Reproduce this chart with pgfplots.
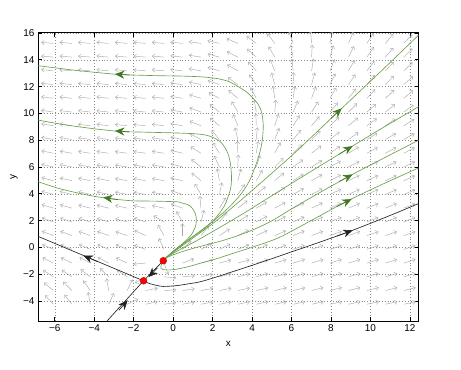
\documentclass[border=0pt]{standalone}
\usepackage{fontspec}
\setmainfont{Liberation Sans}
\usepackage{pgfplots}
\pgfplotsset{compat=1.18}
\usepackage{pgfplotstable}
\usetikzlibrary{arrows.meta}
\definecolor{qgray}{RGB}{170,170,170}
\definecolor{ggray}{RGB}{140,140,140}
\definecolor{tgreen}{RGB}{105,160,75}
\definecolor{agreen}{RGB}{65,120,35}
\definecolor{sep}{RGB}{35,35,35}

% screen angle (degrees) of the direction-field arrow; one row per y, one column per x
\pgfplotstableread{
y c0 c1 c2 c3 c4 c5 c6 c7 c8 c9 c10 c11 c12 c13 c14 c15 c16 c17 c18 c19
-4.25 133 128 100 65 25 12 8 10 11 11 12 12 12 12 12 12 12 12 12 12
-3.225 140 135 125 100 64 11 3 8 10 11 12 13 13 13 14 14 14 14 14 14
-2.2 147 146 143 136 147 211 355 5 12 14 15 15 15 15 16 16 16 16 16 16
-1.175 154 153 152 152 155 185 290 20 15 15 16 16 16 17 17 17 17 17 17 17
-0.15 157 157 157 157 158 160 115 45 27 25 22 21 20 19 19 18 18 18 18 18
0.875 159 159 160 160 161 155 120 90 50 33 27 25 23 22 21 20 20 19 19 19
1.9 161 162 163 164 165 162 150 120 75 50 33 28 26 24 23 22 22 21 21 21
2.925 163 164 165 166 167 168 168 160 95 58 38 31 28 26 25 24 23 22 22 21
3.95 165 166 167 168 169 170 170 162 120 78 55 40 33 29 27 25 24 23 23 22
4.975 166 167 168 169 170 170 170 167 140 100 75 60 40 33 30 28 26 25 24 24
6.0 168 169 170 171 171 171 170 165 142 115 88 72 45 36 32 29 27 26 25 25
7.025 169 170 171 172 172 172 171 166 148 122 92 80 62 44 38 34 31 29 28 27
8.05 170 171 172 172 173 173 172 168 152 130 103 85 68 50 44 39 35 32 30 29
9.075 171 172 173 173 174 174 173 170 158 140 112 92 72 58 50 44 40 36 34 32
10.1 172 173 173 174 174 174 174 170 160 142 120 100 85 67 57 50 45 41 38 36
11.125 173 174 174 174 175 175 174 171 163 152 140 118 98 82 70 60 52 47 43 40
12.15 174 174 175 175 175 175 175 173 168 160 145 125 105 88 75 64 56 50 45 42
13.175 174 175 175 175 175 175 175 174 170 163 150 132 112 95 81 69 60 52 47 44
14.2 175 175 175 175 175 175 175 174 171 165 153 138 120 102 87 74 63 55 49 45
15.225 175 175 175 175 175 175 175 174 172 167 157 143 126 110 95 80 67 57 50 46
}\field

\pgfplotsset{
  qv/.style={draw=qgray, line width=0.45pt,
    -{Straight Barb[length=2.6bp,width=4.2bp]},
    quiver={u={0.62*cos(\thisrow{#1})}, v={0.915*sin(\thisrow{#1})}}},
  tr/.style={tgreen, line width=0.65pt, smooth, tension=0.5},
  ah/.style={agreen, line width=0.65pt, -{Stealth[length=9.5bp,width=8bp,inset=3bp]}},
  bh/.style={sep, line width=0.65pt, -{Stealth[length=9.5bp,width=8bp,inset=3bp]}},
}

\begin{document}
\begin{tikzpicture}
\path[use as bounding box] (-38bp,-49bp) rectangle (423bp,321bp);
\begin{axis}[
  scale only axis, width=380.7bp, height=288bp,
  xmin=-6.85, xmax=12.45, ymin=-5.5, ymax=16,
  xtick={-6,-4,...,12}, xticklabels={−6,−4,−2,0,2,4,6,8,10,12},
  ytick={-4,-2,...,16}, yticklabels={−4,−2,0,2,4,6,8,10,12,14,16},
  grid=major, major grid style={ggray, line width=0.4pt, dash pattern=on 0.7pt off 2.2pt},
  tick align=inside, major tick length=4bp,
  tick style={black, line width=0.6pt},
  axis line style={black, line width=1pt},
  ticklabel style={font=\fontsize{10}{12}\selectfont},
]
\addplot[qv=c0] table[x expr=-6.07, y=y] {\field};
\addplot[qv=c1] table[x expr=-5.135, y=y] {\field};
\addplot[qv=c2] table[x expr=-4.2, y=y] {\field};
\addplot[qv=c3] table[x expr=-3.265, y=y] {\field};
\addplot[qv=c4] table[x expr=-2.33, y=y] {\field};
\addplot[qv=c5] table[x expr=-1.395, y=y] {\field};
\addplot[qv=c6] table[x expr=-0.46, y=y] {\field};
\addplot[qv=c7] table[x expr=0.475, y=y] {\field};
\addplot[qv=c8] table[x expr=1.41, y=y] {\field};
\addplot[qv=c9] table[x expr=2.345, y=y] {\field};
\addplot[qv=c10] table[x expr=3.28, y=y] {\field};
\addplot[qv=c11] table[x expr=4.215, y=y] {\field};
\addplot[qv=c12] table[x expr=5.15, y=y] {\field};
\addplot[qv=c13] table[x expr=6.085, y=y] {\field};
\addplot[qv=c14] table[x expr=7.02, y=y] {\field};
\addplot[qv=c15] table[x expr=7.955, y=y] {\field};
\addplot[qv=c16] table[x expr=8.89, y=y] {\field};
\addplot[qv=c17] table[x expr=9.825, y=y] {\field};
\addplot[qv=c18] table[x expr=10.76, y=y] {\field};
\addplot[qv=c19] table[x expr=11.695, y=y] {\field};

% green trajectories turning left
\addplot[tr] coordinates {(-0.5,-1) (-0.35,-0.75) (0,-0.3) (0.5,0.3) (0.9,0.9) (1.12,1.5) (1.18,2.0) (1.12,2.55) (0.85,3.1) (0.4,3.33) (0.17,3.4) (-1,3.45) (-2.03,3.47) (-3.29,3.65) (-4.5,3.95) (-5.8,4.4) (-6.85,4.9)};
\addplot[tr] coordinates {(-0.5,-1) (-0.3,-0.7) (0.2,-0.05) (0.8,0.6) (1.5,1.3) (2.1,2.1) (2.6,3.1) (2.9,4.3) (2.96,5.2) (2.9,6.3) (2.75,7.1) (2.45,7.8) (2.03,8.2) (1.5,8.42) (0.5,8.52) (-1.5,8.6) (-2.69,8.65) (-4,8.85) (-5.5,9.15) (-6.85,9.5)};
\addplot[tr] coordinates {(-0.5,-1) (-0.3,-0.7) (0.3,0.0) (1.0,0.8) (1.8,1.7) (2.7,2.8) (3.4,3.9) (3.88,5.0) (4.3,6.6) (4.5,7.8) (4.57,9.0) (4.5,10.0) (4.3,10.7) (3.8,11.5) (3.3,12.0) (2.87,12.35) (2.3,12.58) (1.5,12.72) (0.5,12.78) (-1,12.82) (-2.69,12.9) (-3.5,13.0) (-5,13.22) (-6.85,13.56)};
% green trajectories going right
\addplot[tr] coordinates {(-0.5,-1) (-0.3,-0.7) (0.4,0.05) (1.2,0.9) (2.2,2.0) (3.5,3.6) (4.9,5.4) (6.2,7.1) (8.35,10.1) (10.4,12.95) (12.45,15.85)};
\addplot[tr] coordinates {(-0.5,-1) (-0.3,-0.72) (0.3,-0.2) (1.2,0.5) (2.5,1.6) (3.7,2.65) (4.9,3.76) (6.8,5.5) (8.86,7.35) (10.6,8.9) (12.45,10.5)};
\addplot[tr] coordinates {(-0.5,-1) (-0.3,-0.75) (0.3,-0.4) (1.2,0.0) (2.5,0.5) (3.7,1.1) (4.9,1.9) (6.5,3.3) (8.86,5.26) (10.6,6.6) (12.45,8.0)};
\addplot[tr] coordinates {(-0.5,-1) (-0.6,-1.3) (-0.62,-1.55) (-0.5,-1.67) (0,-1.67) (0.7,-1.47) (1.35,-1.2) (2.2,-0.85) (3.04,-0.45) (4.2,0.1) (5.4,0.75) (7,2.0) (8.78,3.42) (10.6,4.7) (12.45,5.93)};

% separatrices
\addplot[sep, line width=0.65pt] coordinates {(-1.5,-2.5) (-6.85,0.82)};
\addplot[sep, line width=0.65pt] coordinates {(-3.35,-5.5) (-1.5,-2.5)};
\addplot[sep, line width=0.65pt] coordinates {(-0.5,-1) (-1.5,-2.5)};
\addplot[sep, line width=0.65pt, smooth, tension=0.5] coordinates {(-1.5,-2.5) (-1.2,-2.7) (-0.84,-2.84) (-0.5,-2.92) (0.17,-2.86) (0.8,-2.72) (1.35,-2.58) (2.1,-2.26) (2.87,-1.89) (4.5,-1.1) (6.04,-0.32) (7.5,0.42) (8.86,1.14) (10.02,1.8) (11.2,2.5) (12.45,3.27)};

% arrowheads
\addplot[ah] coordinates {(-2.2,12.86) (-2.95,12.93)};
\addplot[ah] coordinates {(-2.2,8.62) (-2.95,8.69)};
\addplot[ah] coordinates {(-2.8,3.56) (-3.55,3.72)};
\addplot[ah] coordinates {(8.0,9.62) (8.55,10.38)};
\addplot[ah] coordinates {(8.4,6.94) (9.1,7.56)};
\addplot[ah] coordinates {(8.4,4.9) (9.1,5.44)};
\addplot[ah] coordinates {(8.3,3.05) (9.05,3.6)};
\addplot[bh] coordinates {(8.3,0.84) (9.1,1.27)};
\addplot[bh] coordinates {(-3.8,-1.09) (-4.55,-0.62)};
\addplot[bh] coordinates {(-2.75,-4.7) (-2.3,-3.95)};
\addplot[bh] coordinates {(-0.8,-1.55) (-1.25,-2.22)};

% equilibria
\addplot[only marks, mark=*, mark size=3.4bp, mark options={fill=red, draw=red!75!black, line width=0.4pt}] coordinates {(-0.5,-1) (-1.5,-2.5)};
\end{axis}
\node[font=\fontsize{10}{12}\selectfont] at (190.35bp,-23bp) {x};
\node[font=\fontsize{10}{12}\selectfont, rotate=90] at (-24bp,144bp) {y};
\end{tikzpicture}
\end{document}
